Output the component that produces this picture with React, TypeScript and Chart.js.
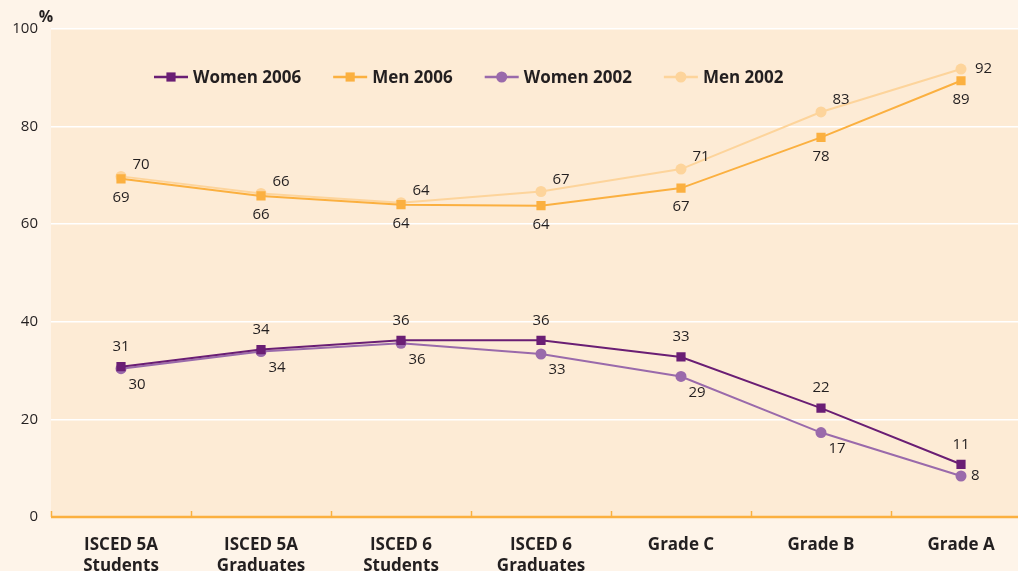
import React, { useEffect, useRef } from "react";
import { Chart, registerables } from "chart.js";
Chart.register(...registerables);

const categories: (string | string[])[] = [
  ["ISCED 5A", "Students"],
  ["ISCED 5A", "Graduates"],
  ["ISCED 6", "Students"],
  ["ISCED 6", "Graduates"],
  "Grade C",
  "Grade B",
  "Grade A",
];
const women2006 = [30.8, 34.3, 36.2, 36.2, 32.8, 22.3, 10.8];
const men2006 = [69.3, 65.8, 64.0, 63.8, 67.4, 77.8, 89.4];
const women2002 = [30.4, 33.9, 35.6, 33.4, 28.8, 17.3, 8.4];
const men2002 = [69.8, 66.3, 64.4, 66.7, 71.3, 83.0, 91.8];
const seriesNames = ["Women 2006", "Men 2006", "Women 2002", "Men 2002"];
const yMin = 0;
const yMax = 100;
const yStep = 20;
const yUnit = "%";

const TEXT = "#231f20";
const FONT = "'Open Sans', 'DejaVu Sans', sans-serif";
const colors = ["#6A1E74", "#FBB040", "#9A6AAB", "#FDD49B"];
const pointStyles = ["rect", "rect", "circle", "circle"];
const pointRadii = [6.5, 6.5, 5.5, 5.5];
const labelOffsets = [
  { dx: 0, dy: -20, lastDx: 0, lastDy: -20 },
  { dx: 0, dy: 19, lastDx: 0, lastDy: 19 },
  { dx: 16, dy: 16, lastDx: 16, lastDy: 0 },
  { dx: 20, dy: -12, lastDx: 20, lastDy: 0 },
];

function drawMarker(ctx: CanvasRenderingContext2D, style: string, x: number, y: number, r: number, color: string) {
  ctx.fillStyle = color;
  ctx.beginPath();
  if (style === "rect") {
    const s = Math.SQRT1_2 * r;
    ctx.rect(x - s, y - s, 2 * s, 2 * s);
  } else {
    ctx.arc(x, y, r, 0, Math.PI * 2);
  }
  ctx.fill();
}

const decor = {
  id: "decor",
  beforeDraw(chart: any) {
    const { ctx, chartArea: a } = chart;
    ctx.save();
    ctx.fillStyle = "#FDEBD5";
    ctx.fillRect(a.left, a.top, a.right - a.left, a.bottom - a.top);
    ctx.restore();
  },
  beforeDatasetsDraw(chart: any) {
    const { ctx, chartArea: a } = chart;
    const n = categories.length;
    const w = (a.right - a.left) / n;
    ctx.save();
    ctx.strokeStyle = "#FBB040";
    ctx.lineWidth = 2.5;
    ctx.beginPath();
    ctx.moveTo(a.left, a.bottom);
    ctx.lineTo(a.right, a.bottom);
    ctx.stroke();
    ctx.lineWidth = 1.5;
    for (let i = 0; i <= n; i++) {
      const x = Math.round(a.left + i * w) + 0.5;
      ctx.beginPath();
      ctx.moveTo(x, a.bottom);
      ctx.lineTo(x, a.bottom - 6);
      ctx.stroke();
    }
    ctx.restore();
  },
  afterDatasetsDraw(chart: any) {
    const { ctx, chartArea: a } = chart;
    ctx.save();
    ctx.font = `15px ${FONT}`;
    ctx.fillStyle = TEXT;
    ctx.textBaseline = "middle";
    chart.data.datasets.forEach((ds: any, di: number) => {
      const meta = chart.getDatasetMeta(di);
      const off = labelOffsets[di];
      meta.data.forEach((pt: any, i: number) => {
        const last = i === meta.data.length - 1;
        const dx = last ? off.lastDx : off.dx;
        const dy = last ? off.lastDy : off.dy;
        const side = last && dy === 0;
        ctx.textAlign = side ? "left" : "center";
        const x = side ? pt.x + dx - 6 : pt.x + dx;
        ctx.fillText(String(Math.round(ds.data[i])), x, pt.y + dy);
      });
    });
    ctx.font = `bold 16px ${FONT}`;
    ctx.textAlign = "center";
    ctx.fillText(yUnit, a.left - 5, a.top - 12);
    ctx.font = `bold 17px ${FONT}`;
    ctx.textAlign = "left";
    let x = a.left + 103;
    const y = a.top + 48;
    seriesNames.forEach((name, i) => {
      ctx.strokeStyle = colors[i];
      ctx.lineWidth = 2.5;
      ctx.beginPath();
      ctx.moveTo(x, y);
      ctx.lineTo(x + 34, y);
      ctx.stroke();
      drawMarker(ctx, pointStyles[i], x + 17, y, pointRadii[i], colors[i]);
      ctx.fillStyle = TEXT;
      ctx.fillText(name, x + 39, y + 1);
      x += 39 + ctx.measureText(name).width + 32;
    });
    ctx.restore();
  },
};

export default function App() {
  const ref = useRef<HTMLCanvasElement>(null);
  useEffect(() => {
    if (!ref.current) return;
    const seriesData = [women2006, men2006, women2002, men2002];
    const chart = new Chart(ref.current, {
      type: "line",
      data: {
        labels: categories as any,
        datasets: seriesNames.map((name, i) => ({
          label: name,
          data: seriesData[i],
          borderColor: colors[i],
          backgroundColor: colors[i],
          pointBackgroundColor: colors[i],
          pointBorderWidth: 0,
          pointStyle: pointStyles[i] as any,
          pointRadius: pointRadii[i],
          borderWidth: 2,
          tension: 0,
          fill: false,
        })),
      },
      options: {
        responsive: false,
        animation: false,
        events: [],
        layout: { padding: { top: 29, right: 9, bottom: 0, left: 0 } },
        plugins: { legend: { display: false }, tooltip: { enabled: false } },
        scales: {
          x: {
            type: "category",
            offset: true,
            grid: { display: false, drawTicks: false },
            border: { display: false },
            ticks: {
              color: TEXT,
              font: { family: FONT, size: 17, weight: "bold", lineHeight: 1.24 },
              padding: 18,
              maxRotation: 0,
              autoSkip: false,
            },
            afterFit(scale: any) {
              scale.height = 54;
            },
          },
          y: {
            min: yMin,
            max: yMax,
            ticks: {
              stepSize: yStep,
              color: TEXT,
              font: { family: FONT, size: 15 },
              padding: 13,
            },
            grid: { color: "#FFFFFF", lineWidth: 1.5, drawTicks: false },
            border: { display: false },
            afterFit(scale: any) {
              scale.width = 51;
            },
          },
        },
      },
      plugins: [decor],
    });
    return () => chart.destroy();
  }, []);
  return (
    <div
      style={{
        position: "fixed",
        left: 0,
        top: 0,
        width: 1018,
        height: 571,
        overflow: "hidden",
        background: "#FEF4E9",
      }}
    >
      <canvas ref={ref} width={1040} height={571} style={{ display: "block" }} />
    </div>
  );
}
